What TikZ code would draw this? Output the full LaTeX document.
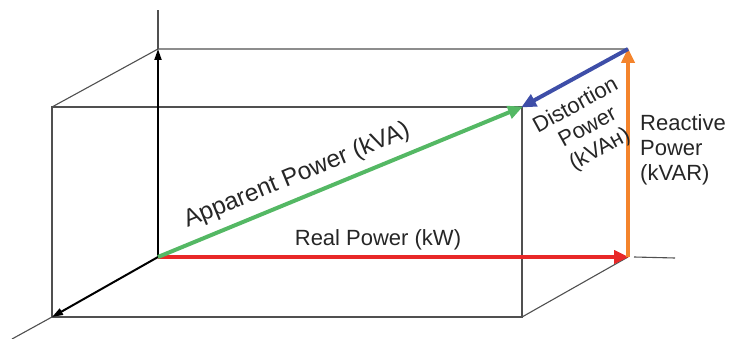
\documentclass[tikz,border=0pt]{standalone}
\usepackage{fontspec}
\setmainfont{Liberation Sans}
\usetikzlibrary{arrows.meta}
\definecolor{cgreen}{RGB}{84,184,100}
\definecolor{cred}{RGB}{232,40,40}
\definecolor{corange}{RGB}{244,132,44}
\definecolor{cblue}{RGB}{62,78,168}
\definecolor{cline}{RGB}{80,80,80}
\tikzset{
  thin edge/.style={draw=cline, line width=1.1pt},
  axis arrow/.style={draw=black, line width=2pt, -{Triangle[length=11pt,width=7pt]}},
  power arrow/.style={line width=4pt, -{Triangle[length=15pt,width=13pt]}, shorten >=-1pt},
  lbl/.style={font=\fontsize{22}{25}\selectfont, inner sep=0pt, text=black!85}
}
\begin{document}
\begin{tikzpicture}[x=1pt,y=-1pt]
\useasboundingbox (0,0) rectangle (733,339);
% corners
\coordinate (O) at (158,257);
\coordinate (BTL) at (158,49);
\coordinate (BTR) at (628,49);
\coordinate (BBR) at (628,257);
\coordinate (FTL) at (52,107);
\coordinate (FTR) at (522,107);
\coordinate (FBL) at (52,317);
\coordinate (FBR) at (522,317);
\coordinate (Ztop) at (158,10);
\coordinate (Xend) at (12,339);
\coordinate (Yend) at (675,258);
% thin box edges
\draw[thin edge] (FTL) rectangle (FBR);
\draw[thin edge] (FTL) -- (BTL) -- (BTR);
\draw[thin edge] (FBR) -- (BBR);
\draw[thin edge] (BTL) -- (Ztop);
\draw[thin edge] (FBL) -- (Xend);
\draw[thin edge] ([xshift=6pt]BBR) -- (Yend);
% axes
\draw[axis arrow] (O) -- (BTL);
\draw[axis arrow] (O) -- (FBL);
% power vectors
\draw[power arrow, draw=cred, fill=cred] (O) -- (BBR);
\draw[power arrow, draw=cgreen, fill=cgreen] (O) -- (FTR);
\draw[power arrow, draw=corange, fill=corange] (BBR) -- (BTR);
\draw[power arrow, draw=cblue, fill=cblue] (BTR) -- (FTR);
% labels
\node[lbl, font=\fontsize{24.5}{28}\selectfont, rotate=22.4] (app) at (297,176) {Apparent Power (kVA)};
\node[lbl] (real) at (378,240) {Real Power (kW)};
\node[lbl, align=center, rotate=28.7] (dist) at (588,128) {Distortion\\Power\\(kVAн)};
\node[lbl, align=left, anchor=north west] (reac) at (640,114) {Reactive\\Power\\(kVAR)};
\end{tikzpicture}
\end{document}
